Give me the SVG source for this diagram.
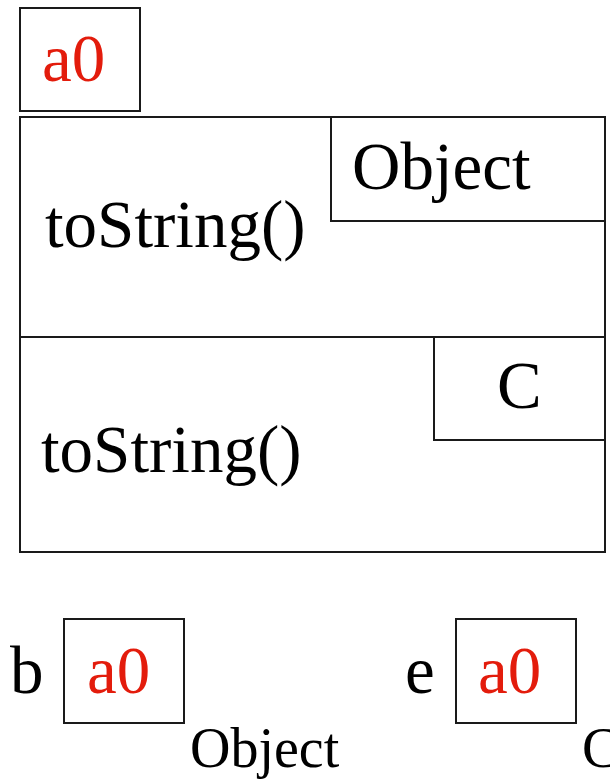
<svg xmlns="http://www.w3.org/2000/svg" width="610" height="779" viewBox="0 0 610 779" font-family="Liberation Serif, Times New Roman, serif">
<style>
.box{fill:none;stroke:#1a1a1a;stroke-width:2}
.t{font-size:67px;fill:#000}
.r{fill:#e31c0c}
.s{font-size:56px}
</style>
<rect width="610" height="779" fill="#fff"/>
<g id="ref-a0">
<rect class="box" x="20" y="8" width="120" height="103"/>
<text class="t r" x="42" y="81" font-family="Liberation Serif">a0</text>
</g>
<g id="object-instance">
<rect class="box" x="20" y="117" width="585" height="435"/>
<line class="box" x1="20" y1="337" x2="605" y2="337"/>
<g id="object-part">
<rect class="box" x="331" y="117" width="274" height="104"/>
<text class="t" x="352" y="189" font-family="Liberation Serif">Object</text>
<text class="t" x="45" y="247" font-family="Liberation Serif">toString()</text>
</g>
<g id="c-part">
<rect class="box" x="434" y="337" width="171" height="103"/>
<text class="t" x="497" y="408" font-family="Liberation Serif">C</text>
<text class="t" x="41" y="472" font-family="Liberation Serif">toString()</text>
</g>
</g>
<g id="var-b">
<text class="t" x="10" y="693" font-family="Liberation Serif">b</text>
<rect class="box" x="64" y="619" width="120" height="104"/>
<text class="t r" x="87" y="693" font-family="Liberation Serif">a0</text>
<text class="t s" x="190" y="767" font-family="Liberation Serif">Object</text>
</g>
<g id="var-e">
<text class="t" x="405" y="693" font-family="Liberation Serif">e</text>
<rect class="box" x="456" y="619" width="120" height="104"/>
<text class="t r" x="478" y="693" font-family="Liberation Serif">a0</text>
<text class="t s" x="582" y="767" font-family="Liberation Serif">C</text>
</g>
<g id="connectors"></g>
</svg>
